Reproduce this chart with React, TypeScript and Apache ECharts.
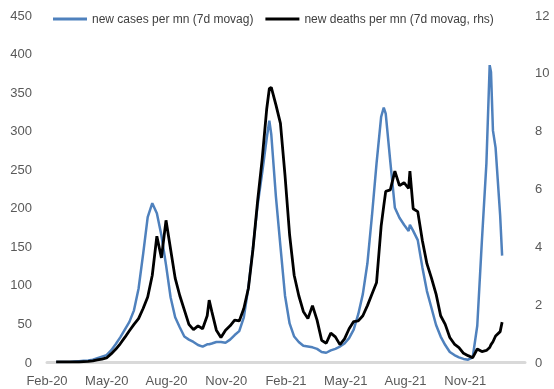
import React, { useEffect, useRef } from "react";
import * as echarts from "echarts";

const dates = [
  "2020-02-15","2020-02-22","2020-02-29","2020-03-07","2020-03-14","2020-03-21","2020-03-28",
  "2020-04-04","2020-04-11","2020-04-18","2020-04-25","2020-05-02","2020-05-09","2020-05-16",
  "2020-05-23","2020-05-30","2020-06-06","2020-06-13","2020-06-20","2020-06-27","2020-07-04",
  "2020-07-11","2020-07-18","2020-07-25","2020-08-01","2020-08-08","2020-08-15","2020-08-22",
  "2020-08-29","2020-09-05","2020-09-12","2020-09-19","2020-09-26","2020-10-03","2020-10-06",
  "2020-10-10","2020-10-17","2020-10-24","2020-10-31","2020-11-07","2020-11-14","2020-11-21",
  "2020-11-28","2020-12-05","2020-12-12","2020-12-19","2020-12-26","2021-01-02","2021-01-06",
  "2021-01-09","2021-01-16","2021-01-23","2021-01-30","2021-02-06","2021-02-13","2021-02-20",
  "2021-02-27","2021-03-06","2021-03-13","2021-03-20","2021-03-27","2021-04-03","2021-04-10",
  "2021-04-17","2021-04-24","2021-05-01","2021-05-08","2021-05-15","2021-05-22","2021-05-29",
  "2021-06-05","2021-06-12","2021-06-19","2021-06-26","2021-06-30","2021-07-03","2021-07-10",
  "2021-07-17","2021-07-24","2021-07-31","2021-08-07","2021-08-09","2021-08-14","2021-08-21",
  "2021-08-28","2021-09-04","2021-09-11","2021-09-18","2021-09-25","2021-10-02","2021-10-09",
  "2021-10-16","2021-10-23","2021-10-30","2021-11-06","2021-11-13","2021-11-20","2021-11-27",
  "2021-12-04","2021-12-09","2021-12-11","2021-12-14","2021-12-18","2021-12-25","2021-12-28",
];

const cases = [
  0, 0, 0, 0, 0.5, 1, 1.5,
  2, 3, 5, 7, 9, 15, 23,
  32, 42, 52, 67, 95, 140, 188,
  206, 193, 164, 126, 84, 58, 45,
  33, 29, 26, 22, 20, 23, 23,
  24, 26, 26, 25, 29, 35, 40,
  58, 97, 148, 203, 245, 290, 313,
  295, 215, 150, 86, 50, 33, 26,
  21, 20, 19, 17, 13, 12, 15,
  17, 20, 24, 31, 42, 62, 88,
  128, 190, 258, 318, 330, 322, 260,
  200, 187, 178, 170, 178, 170, 158,
  123, 92, 70, 48, 33, 22, 13,
  9, 6, 4, 3, 6, 47, 156,
  258, 385, 376, 300, 278, 190, 138,
];

const deaths = [
  0, 0, 0, 0, 0, 0, 0.01,
  0.02, 0.04, 0.07, 0.1, 0.14, 0.28, 0.44,
  0.63, 0.85, 1.08, 1.3, 1.5, 1.85, 2.25,
  3.0, 4.35, 3.6, 4.9, 3.9, 2.9, 2.3,
  1.8, 1.3, 1.12, 1.25, 1.15, 1.6, 2.14,
  1.75, 1.1, 0.85, 1.1, 1.25, 1.45, 1.42,
  1.85, 2.55, 3.9, 5.55, 7.0, 8.75, 9.45,
  9.5, 8.9, 8.25, 6.45, 4.4, 3.0, 2.3,
  1.75, 1.5, 1.95, 1.45, 0.75, 0.65, 1.0,
  0.87, 0.6, 0.8, 1.15, 1.4, 1.42, 1.6,
  1.95, 2.35, 2.75, 4.7, 5.4, 5.9, 5.95,
  6.6, 6.1, 6.2, 6.0, 6.6, 5.3, 5.2,
  4.2, 3.4, 2.9, 2.35, 1.6, 1.3, 0.85,
  0.62, 0.5, 0.3, 0.22, 0.15, 0.45, 0.36,
  0.4, 0.5, 0.6, 0.7, 0.9, 1.05, 1.38,
];

const xTickLabels = ["Feb-20", "May-20", "Aug-20", "Nov-20", "Feb-21", "May-21", "Aug-21", "Nov-21"];
const axisStart = "2020-02-01";
const axisEnd = "2022-02-01";

const dayOf = (d: string) => (Date.parse(d) - Date.parse(axisStart)) / 86400000;

export default function App() {
  const ref = useRef<HTMLDivElement>(null);
  useEffect(() => {
    if (!ref.current) return;
    const chart = echarts.init(ref.current, undefined, { renderer: "svg" });
    const totalDays = dayOf(axisEnd);
    const step = totalDays / 8;
    const font = "'Liberation Sans', Arial, sans-serif";
    chart.setOption({
      animation: false,
      grid: { left: 47, right: 29, top: 15, bottom: 27, containLabel: false },
      legend: {
        left: 48,
        top: 8,
        icon: "rect",
        itemWidth: 34,
        itemHeight: 3,
        itemGap: 12,
        textStyle: { fontFamily: font, fontSize: 12, color: "#404040" },
        data: ["new cases per mn (7d movag)", "new deaths per mn (7d movag, rhs)"],
      },
      xAxis: {
        type: "value",
        min: 0,
        max: totalDays,
        interval: step,
        axisLine: { show: true, lineStyle: { color: "#d9d9d9", width: 3 } },
        axisTick: { show: false },
        splitLine: { show: false },
        axisLabel: {
          margin: 12,
          fontFamily: font,
          fontSize: 13,
          color: "#595959",
          showMaxLabel: false,
          formatter: (v: number) => xTickLabels[Math.round(v / step)] ?? "",
        },
      },
      yAxis: [
        {
          type: "value",
          min: 0,
          max: 450,
          interval: 50,
          axisLine: { show: false },
          axisTick: { show: false },
          splitLine: { show: false },
          axisLabel: { margin: 15, fontFamily: font, fontSize: 13, color: "#595959" },
        },
        {
          type: "value",
          min: 0,
          max: 12,
          interval: 2,
          position: "right",
          axisLine: { show: false },
          axisTick: { show: false },
          splitLine: { show: false },
          axisLabel: { margin: 10, fontFamily: font, fontSize: 13, color: "#595959" },
        },
      ],
      series: [
        {
          name: "new cases per mn (7d movag)",
          type: "line",
          yAxisIndex: 0,
          symbol: "none",
          smooth: false,
          lineStyle: { color: "#4f81bd", width: 2.5 },
          itemStyle: { color: "#4f81bd" },
          data: dates.map((d, i) => [dayOf(d), cases[i]]),
        },
        {
          name: "new deaths per mn (7d movag, rhs)",
          type: "line",
          yAxisIndex: 1,
          symbol: "none",
          smooth: false,
          lineStyle: { color: "#000000", width: 2.8 },
          itemStyle: { color: "#000000" },
          data: dates.map((d, i) => [dayOf(d), deaths[i]]),
        },
      ],
    });
    return () => chart.dispose();
  }, []);
  return (
    <div
      ref={ref}
      style={{ position: "fixed", left: 0, top: 0, width: 554, height: 389 }}
    />
  );
}
